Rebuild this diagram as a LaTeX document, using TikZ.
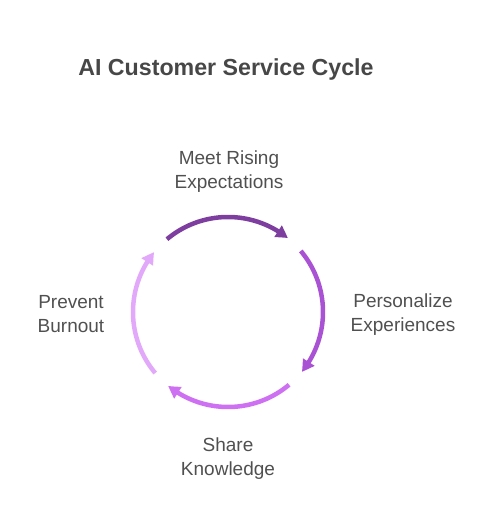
\documentclass[tikz,border=0pt]{standalone}
\usepackage{fontspec}
\setmainfont{Liberation Sans}
\usetikzlibrary{arrows.meta,bending}
\definecolor{stepA}{RGB}{125,62,160}
\definecolor{stepB}{RGB}{170,82,212}
\definecolor{stepC}{RGB}{205,112,242}
\definecolor{stepD}{RGB}{226,168,250}
\definecolor{labelgray}{RGB}{80,80,80}
\tikzset{
  cyclearc/.style={line width=4.5pt, -{Triangle[length=12pt,width=13pt,bend]}},
  cyclelabel/.style={font=\fontsize{19}{24}\selectfont, text=labelgray, align=center}
}
\begin{document}
\begin{tikzpicture}[x=1pt, y=1pt]
  \useasboundingbox (0,0) rectangle (492,525);
  \node[font=\bfseries\fontsize{23.2}{27}\selectfont, text=black!72] (title) at (226,455.5) {AI Customer Service Cycle};
  \coordinate (hub) at (228,213);
  % the four steps of the cycle, clockwise from the top
  \foreach \a/\c/\n/\p/\t in {90/stepA/rising/{229,353.5}/{Meet Rising\\Expectations},
      0/stepB/personal/{403,210.5}/{Personalize\\Experiences},
      -90/stepC/share/{228,66.5}/{Share\\Knowledge},
      180/stepD/burnout/{71,210.5}/{Prevent\\Burnout}} {
    \draw[cyclearc, \c] (hub) ++(\a+40:95) arc[start angle=\a+40, end angle=\a-39, radius=95];
    \node[cyclelabel] (\n) at (\p) {\t};
  }
\end{tikzpicture}
\end{document}
